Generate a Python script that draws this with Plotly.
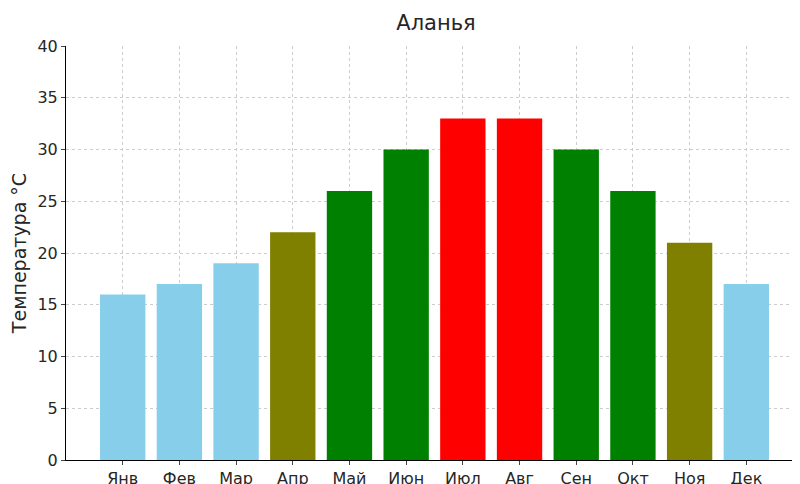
import plotly.graph_objects as go

months = ["Янв","Фев","Мар","Апр","Май","Июн","Июл","Авг","Сен","Окт","Ноя","Дек"]
temps = [16,17,19,22,26,30,33,33,30,26,21,17]
colors = ["#87CEEB","#87CEEB","#87CEEB","#808000","#008000","#008000","#FF0000","#FF0000","#008000","#008000","#808000","#87CEEB"]

fig = go.Figure(go.Bar(x=list(range(12)), y=temps, marker_color=colors, width=0.8, marker_line_width=0))
fig.update_layout(
    width=800, height=484, plot_bgcolor="white", paper_bgcolor="white",
    margin=dict(l=58, r=5, t=38, b=32, autoexpand=False),
    font=dict(family="DejaVu Sans", size=16, color="#262626"),
    title=dict(text="Аланья", x=0.535, xanchor="center", y=0.985, yanchor="top", font=dict(size=21)),
    showlegend=False,
)
grid = dict(showgrid=True, gridcolor="#cccccc", griddash="3px,3px", gridwidth=1)
fig.update_xaxes(range=[-1, 12], tickvals=list(range(12)), ticktext=months, showline=True, automargin=False,
                 linecolor="black", ticks="outside", ticklen=4, zeroline=False, **grid)
fig.update_yaxes(range=[0, 40], dtick=5, showline=True, linecolor="black", ticks="outside", ticklen=4,
                 automargin=False, zeroline=False, title=dict(text="Температура °C", standoff=6), **grid)
fig.write_html("out.html")
